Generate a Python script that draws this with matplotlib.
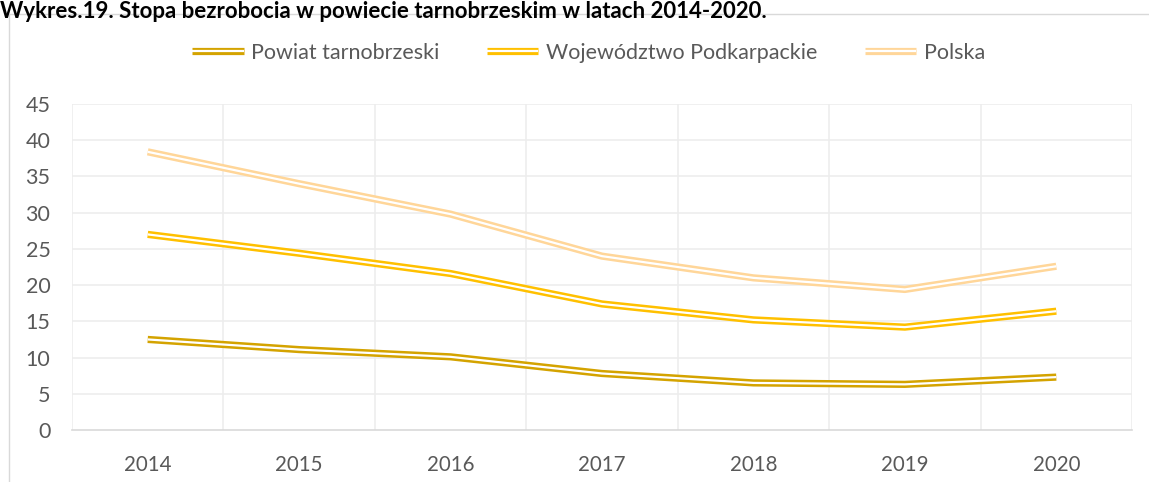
import matplotlib
matplotlib.use("Agg")
import matplotlib.pyplot as plt
from matplotlib.patches import Rectangle
from matplotlib.lines import Line2D
from matplotlib.legend_handler import HandlerBase

years = ["2014", "2015", "2016", "2017", "2018", "2019", "2020"]
powiat = [12.5, 11.1, 10.1, 7.8, 6.5, 6.3, 7.3]
wojewodztwo = [27.0, 24.4, 21.6, 17.4, 15.2, 14.2, 16.4]
polska = [38.4, 34.0, 29.8, 24.0, 21.0, 19.4, 22.6]
series_names = ["Powiat tarnobrzeski", "Województwo Podkarpackie", "Polska"]
colors = ["#D4A300", "#FFC000", "#FFD699"]
yticks = [0, 5, 10, 15, 20, 25, 30, 35, 40, 45]
title = "Wykres.19. Stopa bezrobocia w powiecie tarnobrzeskim w latach 2014-2020."

plt.rcParams['font.family'] = ['Lato', 'DejaVu Sans']

W, H = 1149, 482
fig = plt.figure(figsize=(W / 100, H / 100), dpi=100)

# chart frame
fig.patches.append(Rectangle((9 / W, -0.1), 1.2, 1 - 14 / H + 0.1, transform=fig.transFigure,
                             fill=False, edgecolor="#D9D9D9", linewidth=1.0))

fig.text(0.0, 1 - 0.5 / H, title, fontsize=16, fontweight="bold", color="#000000",
         ha="left", va="top")

ax = fig.add_axes([72 / W, 1 - 430 / H, (1132 - 72) / W, (430 - 104) / H])
x = list(range(len(years)))

outer = 5.2
inner = 1.6
for vals, c in zip([powiat, wojewodztwo, polska], colors):
    ax.plot(x, vals, color=c, lw=outer, solid_joinstyle="round", solid_capstyle="butt", zorder=3)
    ax.plot(x, vals, color="white", lw=inner, solid_joinstyle="round", solid_capstyle="butt", zorder=4)

ax.set_xlim(-0.5, len(years) - 0.5)
ax.set_ylim(0, 45)
ax.set_yticks(yticks)
ax.set_yticklabels([str(t) for t in yticks])
ax.set_xticks(x)
ax.set_xticklabels(years)
ax.tick_params(axis="both", length=0, labelcolor="#595959")
ax.tick_params(axis="y", pad=15.5, labelsize=15.5)
ax.tick_params(axis="x", pad=18, labelsize=14.8)

for t in yticks[1:]:
    ax.axhline(t, color="#EDEDED", lw=1.2, zorder=1)
for b in range(len(years) + 1):
    ax.axvline(b - 0.5, color="#EDEDED", lw=1.2, zorder=1)

for s in ["top", "right", "left"]:
    ax.spines[s].set_visible(False)
ax.spines["bottom"].set_color("#D9D9D9")
ax.spines["bottom"].set_linewidth(1.2)


class DoubleLineHandler(HandlerBase):
    def create_artists(self, legend, orig_handle, xdescent, ydescent, width, height, fontsize, trans):
        y = height / 2 - ydescent
        l1 = Line2D([-xdescent, width - xdescent], [y, y], color=orig_handle.get_color(),
                    lw=outer, solid_capstyle="butt", transform=trans)
        l2 = Line2D([-xdescent, width - xdescent], [y, y], color="white",
                    lw=inner, solid_capstyle="butt", transform=trans)
        return [l1, l2]


handles = [Line2D([], [], color=c) for c in colors]
fig.legend(handles, series_names, loc="center", bbox_to_anchor=(0.5 + 14 / W, 1 - 53 / H),
           ncol=3, frameon=False, fontsize=15.5, labelcolor="#595959",
           handler_map={Line2D: DoubleLineHandler()}, handlelength=2.4,
           handletextpad=0.35, columnspacing=2.2)

fig.savefig("out.png", dpi=100, facecolor="white")
